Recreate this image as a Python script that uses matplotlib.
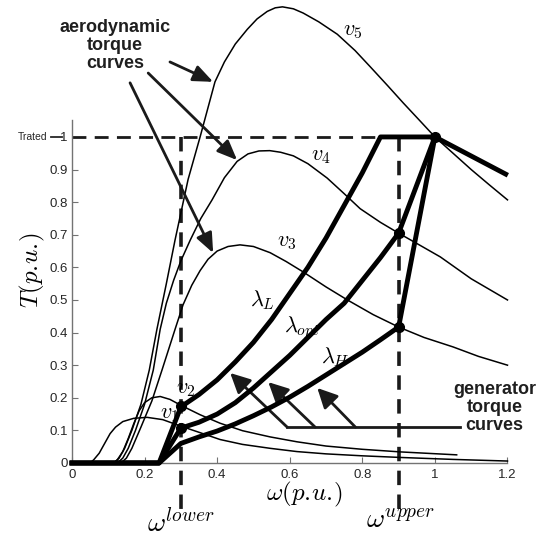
import numpy as np
import matplotlib.pyplot as plt

plt.rcParams['font.family'] = ['Liberation Sans', 'DejaVu Sans']
plt.rcParams['mathtext.fontset'] = 'cm'

# aerodynamic torque curves, one per wind speed (omega, T) in p.u.
v1_w = [0, 0.05, 0.06, 0.075, 0.09, 0.105, 0.12, 0.14, 0.17, 0.207, 0.25, 0.3, 0.353, 0.408, 0.47, 0.546, 0.62, 0.7, 0.8, 0.905, 1.05, 1.2]
v1_t = [0, 0, 0.01, 0.03, 0.06, 0.09, 0.11, 0.127, 0.137, 0.14, 0.133, 0.113, 0.093, 0.072, 0.057, 0.045, 0.035, 0.028, 0.022, 0.017, 0.011, 0.006]

v2_w = [0, 0.115, 0.125, 0.14, 0.155, 0.17, 0.185, 0.2, 0.22, 0.243, 0.27, 0.3, 0.353, 0.408, 0.47, 0.546, 0.62, 0.7, 0.8, 0.905, 1.06]
v2_t = [0, 0, 0.01, 0.035, 0.075, 0.12, 0.16, 0.185, 0.2, 0.204, 0.195, 0.177, 0.148, 0.122, 0.099, 0.08, 0.065, 0.052, 0.042, 0.034, 0.025]

v3_w = [0, 0.135, 0.15, 0.165, 0.19, 0.22, 0.248, 0.284, 0.306, 0.33, 0.353, 0.375, 0.4, 0.43, 0.463, 0.5, 0.546, 0.59, 0.637, 0.7, 0.759, 0.83, 0.9, 0.97, 1.05, 1.12, 1.2]
v3_t = [0, 0, 0.015, 0.045, 0.11, 0.19, 0.285, 0.41, 0.485, 0.545, 0.59, 0.625, 0.65, 0.664, 0.669, 0.664, 0.645, 0.618, 0.586, 0.54, 0.5, 0.455, 0.417, 0.385, 0.356, 0.327, 0.30]

v4_w = [0, 0.125, 0.14, 0.155, 0.175, 0.2, 0.224, 0.243, 0.26, 0.28, 0.3, 0.326, 0.355, 0.386, 0.42, 0.455, 0.485, 0.515, 0.545, 0.575, 0.61, 0.65, 0.703, 0.75, 0.794, 0.85, 0.9, 0.96, 1.015, 1.1, 1.2]
v4_t = [0, 0, 0.015, 0.045, 0.1, 0.18, 0.285, 0.41, 0.49, 0.56, 0.62, 0.684, 0.75, 0.807, 0.875, 0.925, 0.948, 0.957, 0.958, 0.953, 0.942, 0.918, 0.874, 0.826, 0.78, 0.738, 0.705, 0.667, 0.632, 0.565, 0.5]

v5_w = [0, 0.115, 0.13, 0.145, 0.165, 0.19, 0.213, 0.234, 0.26, 0.284, 0.32, 0.353, 0.394, 0.42, 0.45, 0.483, 0.51, 0.538, 0.56, 0.58, 0.61, 0.637, 0.68, 0.731, 0.78, 0.822, 0.87, 0.913, 0.96, 1.0, 1.05, 1.1, 1.15, 1.2]
v5_t = [0, 0, 0.015, 0.045, 0.1, 0.18, 0.285, 0.41, 0.55, 0.684, 0.87, 1.0, 1.169, 1.23, 1.285, 1.33, 1.362, 1.385, 1.396, 1.399, 1.393, 1.38, 1.353, 1.315, 1.265, 1.215, 1.157, 1.104, 1.048, 1.0, 0.95, 0.9, 0.853, 0.807]

# generator torque curves
lamL_w = [0, 0.24, 0.3, 0.35, 0.4, 0.45, 0.5, 0.55, 0.6, 0.65, 0.7, 0.75, 0.8, 0.85, 1.0]
lamL_t = [0, 0, 0.172, 0.21, 0.255, 0.31, 0.37, 0.44, 0.52, 0.6, 0.69, 0.79, 0.89, 1.0, 1.0]

lamO_w = [0, 0.24, 0.3, 0.35, 0.4, 0.45, 0.5, 0.55, 0.6, 0.65, 0.7, 0.75, 0.8, 0.85, 0.9, 1.0]
lamO_t = [0, 0, 0.107, 0.125, 0.15, 0.185, 0.23, 0.28, 0.33, 0.385, 0.44, 0.49, 0.56, 0.63, 0.705, 1.0]

lamH_w = [0, 0.24, 0.3, 0.35, 0.4, 0.45, 0.5, 0.55, 0.6, 0.65, 0.7, 0.75, 0.8, 0.85, 0.9, 1.0]
lamH_t = [0, 0, 0.06, 0.08, 0.098, 0.12, 0.145, 0.172, 0.202, 0.235, 0.27, 0.305, 0.34, 0.378, 0.417, 1.0]

# constant power part above rated speed
cp_w = [1.0, 1.195]
cp_t = [1.0, 0.886]

# operating points
pts_w = [1.0, 0.9, 0.9, 0.3, 0.3]
pts_t = [1.0, 0.705, 0.417, 0.175, 0.107]

w_lower = 0.3
w_upper = 0.9
T_rated = 1.0

xticks = [0, 0.2, 0.4, 0.6, 0.8, 1, 1.2]
xticklabels = ['0', '0.2', '0.4', '0.6', '0.8', '1', '1.2']
yticks = [0, 0.1, 0.2, 0.3, 0.4, 0.5, 0.6, 0.7, 0.8, 0.9, 1.0]
yticklabels = ['0', '0.1', '0.2', '0.3', '0.4', '0.5', '0.6', '0.7', '0.8', '0.9', '1']

fig = plt.figure(figsize=(5.4, 5.4), dpi=100, facecolor='w')
ax = fig.add_axes([0.1333, 0.1426, 0.8065, 0.8574])
ax.set_xlim(0, 1.2)
ax.set_ylim(0, 1.42)

# thin aerodynamic curves
for w, t in [(v1_w, v1_t), (v2_w, v2_t), (v3_w, v3_t), (v4_w, v4_t), (v5_w, v5_t)]:
    ax.plot(w, t, color='k', lw=1.1, zorder=3, clip_on=False)

# thick generator curves
for w, t in [(lamL_w, lamL_t), (lamO_w, lamO_t), (lamH_w, lamH_t), (cp_w, cp_t)]:
    ax.plot(w, t, color='k', lw=3.5, zorder=4, solid_joinstyle='round', clip_on=False)

# dashed guide lines
ln, = ax.plot([0, 1.0], [T_rated, T_rated], color='0.1', lw=2.0, zorder=2)
ln.set_dashes([5, 3])
for xv, ybot in [(w_lower, -0.15), (w_upper, -0.16)]:
    ln, = ax.plot([xv, xv], [T_rated, ybot], color='0.1', lw=2.6, zorder=2, clip_on=False)
    ln.set_dashes([4, 2.6])

ax.plot(pts_w, pts_t, 'o', color='k', ms=7, zorder=5, clip_on=False)

# axes styling like matlab
ax.spines['top'].set_visible(False)
ax.spines['right'].set_visible(False)
ax.spines['left'].set_bounds(0, 1.052)
for s in ['left', 'bottom']:
    ax.spines[s].set_color('0.45')
    ax.spines[s].set_linewidth(1.0)
ax.set_xticks(xticks)
ax.set_xticklabels(xticklabels)
ax.set_yticks(yticks)
ax.set_yticklabels(yticklabels)
ax.tick_params(direction='in', length=4, width=0.8, color='0.45', labelsize=9.5,
               labelcolor='0.15', pad=4)
ax.tick_params(axis='y', pad=3)

ax.text(-0.067, T_rated, 'Trated', ha='right', va='center', fontsize=7.5, color='0.15')
ax.plot([-0.057, -0.028], [T_rated, T_rated], color='0.15', lw=1.3, clip_on=False)

# axis labels
ax.text(-0.11, 0.59, r'$T(p.\!u.\!)$', rotation=90, ha='center', va='center', fontsize=18)
ax.text(0.64, -0.097, r'$\omega(p.\!u.\!)$', ha='center', va='center', fontsize=18)
ax.text(w_lower, -0.185, r'$\omega^{lower}$', ha='center', va='center', fontsize=20)
ax.text(w_upper + 0.005, -0.178, r'$\omega^{upper}$', ha='center', va='center', fontsize=20)

# curve labels
ax.text(0.773, 1.325, r'$v_5$', ha='center', va='center', fontsize=16)
ax.text(0.687, 0.942, r'$v_4$', ha='center', va='center', fontsize=16)
ax.text(0.593, 0.678, r'$v_3$', ha='center', va='center', fontsize=16)
ax.text(0.314, 0.227, r'$v_2$', ha='center', va='center', fontsize=16)
ax.text(0.27, 0.153, r'$v_1$', ha='center', va='center', fontsize=16)
ax.text(0.524, 0.50, r'$\lambda_L$', ha='center', va='center', fontsize=16)
ax.text(0.632, 0.414, r'$\lambda_{opt}$', ha='center', va='center', fontsize=16)
ax.text(0.725, 0.325, r'$\lambda_H$', ha='center', va='center', fontsize=16)

# annotations
ax.text(0.118, 1.28, 'aerodynamic\ntorque\ncurves', ha='center', va='center',
        fontsize=13, fontweight='bold', color='0.12', linespacing=1.1)
aero = dict(arrowstyle='-|>,head_length=0.6,head_width=0.25', lw=2.0, color='0.1',
            shrinkA=0, shrinkB=0, mutation_scale=20)
ax.annotate('', xy=(0.389, 1.169), xytext=(0.270, 1.230), arrowprops=aero, annotation_clip=False)
ax.annotate('', xy=(0.455, 0.929), xytext=(0.210, 1.196), arrowprops=aero, annotation_clip=False)
ax.annotate('', xy=(0.389, 0.644), xytext=(0.160, 1.166), arrowprops=aero, annotation_clip=False)

ax.text(1.164, 0.17, 'generator\ntorque\ncurves', ha='center', va='center',
        fontsize=13, fontweight='bold', color='0.12', linespacing=1.1)
ax.plot([0.593, 1.07], [0.110, 0.110], color='0.1', lw=2.0)
gen = dict(arrowstyle='-|>,head_length=0.6,head_width=0.3', lw=2.0, color='0.1',
           shrinkA=0, shrinkB=0, mutation_scale=20)
ax.annotate('', xy=(0.436, 0.276), xytext=(0.593, 0.110), arrowprops=gen)
ax.annotate('', xy=(0.541, 0.248), xytext=(0.670, 0.110), arrowprops=gen)
ax.annotate('', xy=(0.676, 0.230), xytext=(0.781, 0.110), arrowprops=gen)

fig.savefig('out.png', dpi=100, facecolor='w')
